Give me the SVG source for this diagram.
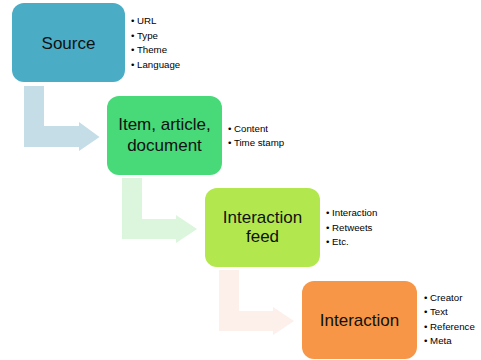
<svg xmlns="http://www.w3.org/2000/svg" width="481" height="360" viewBox="0 0 481 360">
<style>
.box{stroke:none}
.lbl{font-family:"Liberation Sans",Arial,sans-serif;font-size:17px;fill:#111;text-anchor:middle}
.bul{font-family:"Liberation Sans",Arial,sans-serif;font-size:9.7px;fill:#000}
</style>
<rect width="481" height="360" fill="#fff"/>
<g id="connectors">
<path d="M24,86 H44 V126 H79 V122 L99.5,137 L79,151 V147 H24 Z" fill="#c5dde6"/>
<path d="M122,178 H142 V219 H176 V215 L197,229 L176,243 V239 H122 Z" fill="#dcf6dd"/>
<path d="M219,270 H239 V311 H273 V307 L294,321 L273,335 V331 H219 Z" fill="#fdefea"/>
</g>
<g id="source">
<rect class="box" x="12" y="3" width="113" height="79" rx="12" fill="#4bacc6"/>
<text class="lbl" x="68.5" y="48.5">Source</text>
<text class="bul" x="131" y="24">• URL</text>
<text class="bul" x="131" y="38.7">• Type</text>
<text class="bul" x="131" y="53.4">• Theme</text>
<text class="bul" x="131" y="68">• Language</text>
</g>
<g id="item">
<rect class="box" x="107" y="96" width="115" height="79" rx="12" fill="#48d979"/>
<text class="lbl" x="164.5" y="130">Item, article,</text>
<text class="lbl" x="164.5" y="151">document</text>
<text class="bul" x="228" y="131.7">• Content</text>
<text class="bul" x="228" y="146">• Time stamp</text>
</g>
<g id="feed">
<rect class="box" x="205" y="188" width="115" height="79" rx="12" fill="#b2e84d"/>
<text class="lbl" x="262.5" y="223">Interaction</text>
<text class="lbl" x="262.5" y="242">feed</text>
<text class="bul" x="326" y="216">• Interaction</text>
<text class="bul" x="326" y="230.7">• Retweets</text>
<text class="bul" x="326" y="245">• Etc.</text>
</g>
<g id="interaction">
<rect class="box" x="302" y="281" width="115" height="78" rx="12" fill="#f79646"/>
<text class="lbl" x="359.5" y="326">Interaction</text>
<text class="bul" x="424" y="300.7">• Creator</text>
<text class="bul" x="424" y="315">• Text</text>
<text class="bul" x="424" y="330">• Reference</text>
<text class="bul" x="424" y="344.3">• Meta</text>
</g>
</svg>
